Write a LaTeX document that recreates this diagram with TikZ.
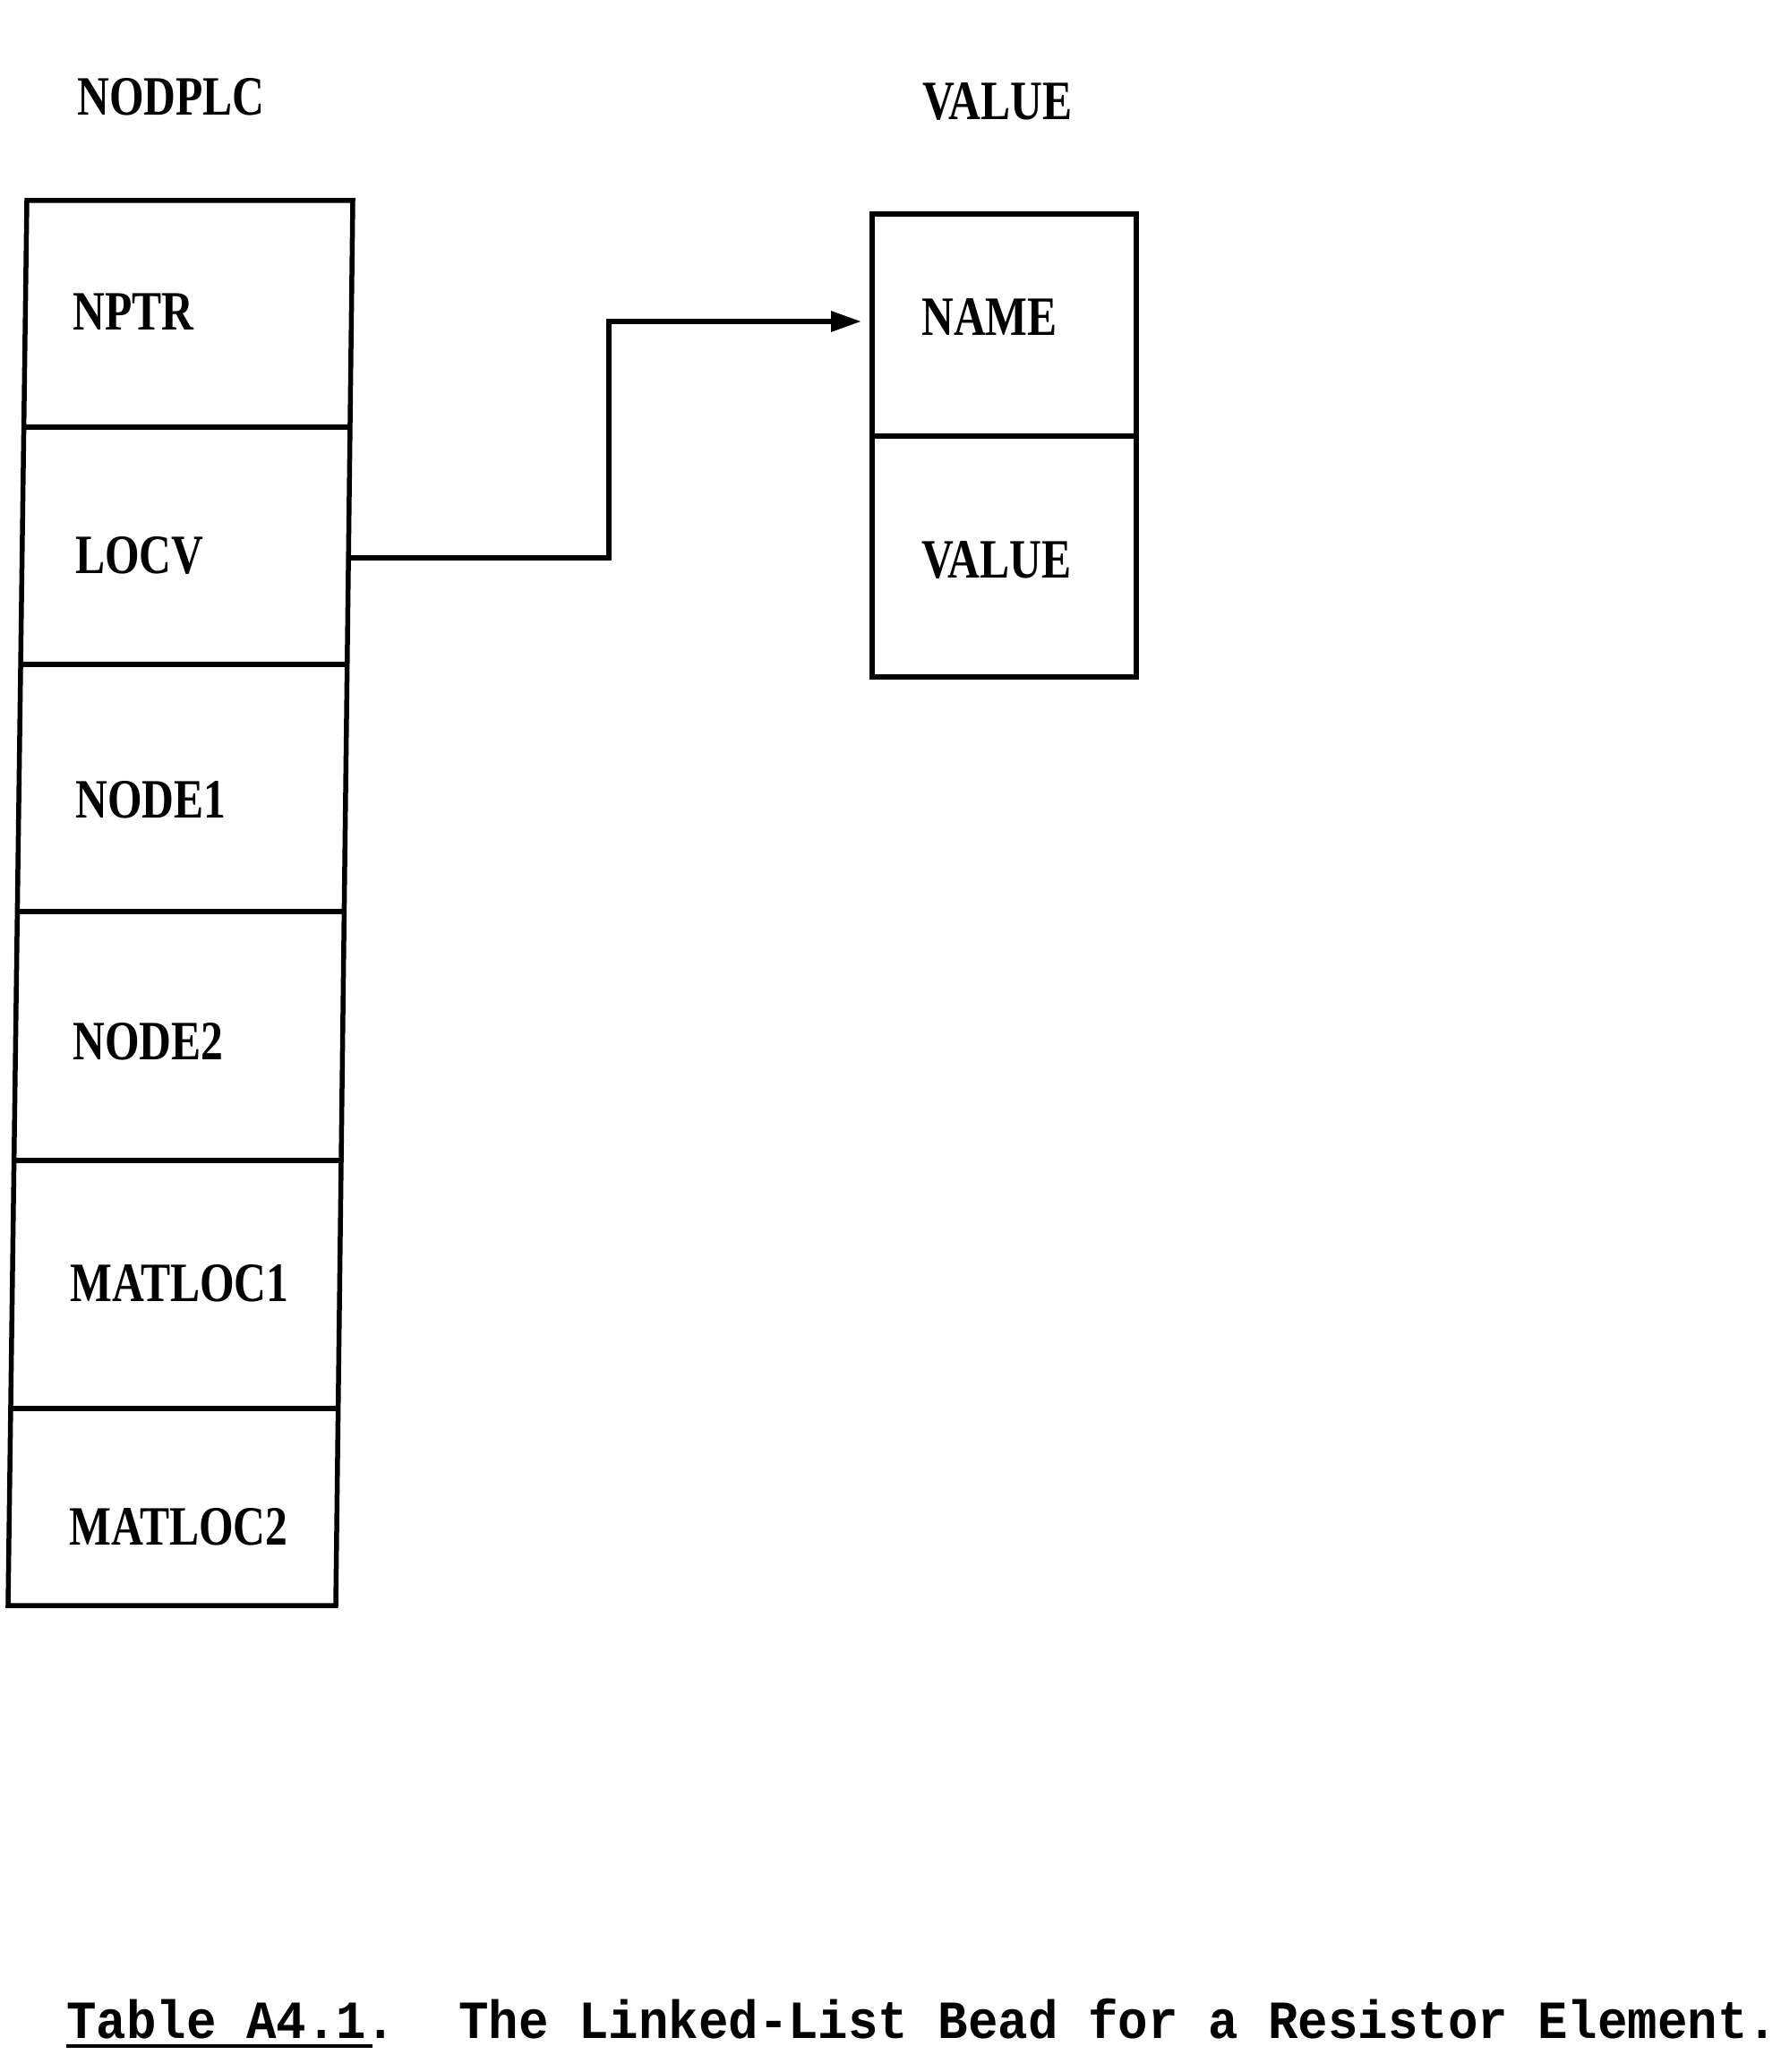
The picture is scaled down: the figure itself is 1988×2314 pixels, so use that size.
\documentclass[tikz,border=0pt]{standalone}
\usepackage{fontspec}
\newfontfamily\lblfont[FakeStretch=0.8]{Liberation Serif}
\newfontfamily\capfont[FakeStretch=0.93]{Liberation Mono}
\usetikzlibrary{arrows.meta}
\tikzset{
  cell/.style={draw=black, line width=5.5pt, rectangle, inner sep=0pt, outer sep=0pt},
  ghost/.style={rectangle, inner sep=0pt, outer sep=0pt},
  frame/.style={line width=5.5pt, line join=miter},
  lbl/.style={font=\lblfont\bfseries\fontsize{62}{62}\selectfont, inner sep=0pt, anchor=west},
  captxt/.style={font=\capfont\bfseries\fontsize{60}{60}\selectfont, inner sep=0pt, anchor=base west},
  link/.style={line width=6pt, -{Triangle[length=34pt,width=22pt]}}
}
\begin{document}
\begin{tikzpicture}[x=1pt,y=-1pt]
\useasboundingbox (0,0) rectangle (1988,2314);
% titles
\node[lbl] (tnod) at (86,108) {NODPLC};
\node[lbl] (tval) at (1030,114) {VALUE};
% left column: named cells, outline drawn with its slight slant
\node[ghost, minimum width=364, minimum height=253] (c1) at (212,350.5) {};
\node[ghost, minimum width=364, minimum height=265] (c2) at (208.7,609.5) {};
\node[ghost, minimum width=364, minimum height=276] (c3) at (205.5,880) {};
\node[ghost, minimum width=364, minimum height=278] (c4) at (202,1157) {};
\node[ghost, minimum width=364, minimum height=277] (c5) at (198.3,1434.5) {};
\node[ghost, minimum width=365, minimum height=220] (c6) at (194.5,1683) {};
\draw[frame] (30,224) -- (394,224) -- (375,1793) -- (9,1793) -- cycle;
\draw[frame] (26.6,477) -- (390.9,477);
\draw[frame] (23.1,742) -- (387.7,742);
\draw[frame] (19.4,1018) -- (384.4,1018);
\draw[frame] (15.7,1296) -- (381.0,1296);
\draw[frame] (11.9,1573) -- (377.7,1573);
\node[lbl] (l1) at (81,348) {NPTR};
\node[lbl] (l2) at (84,620) {LOCV};
\node[lbl] (l3) at (84,893) {NODE1};
\node[lbl] (l4) at (81,1163) {NODE2};
\node[lbl] (l5) at (78,1433) {MATLOC1};
\node[lbl] (l6) at (77,1705) {MATLOC2};
% right box
\node[cell, minimum width=295, minimum height=248] (n1) at (1121.5,363) {};
\node[cell, minimum width=295, minimum height=269] (n2) at (1121.5,621.5) {};
\node[lbl] (m1) at (1029,354) {NAME};
\node[lbl] (m2) at (1029,626) {VALUE};
% link
\coordinate (bend) at (680,359);
\draw[link] ([yshift=-13.5pt]c2.east) -| (bend) -- ([xshift=-12pt,yshift=4pt]n1.west);
% caption
\node[captxt] (cap1) at (74,2276) {Table A4.1.};
\node[captxt] (cap2) at (512,2276) {The Linked-List Bead for a Resistor Element.};
\draw[line width=3.5pt] ([yshift=-9pt]cap1.base west) -- ++(342,0);
\end{tikzpicture}
\end{document}
